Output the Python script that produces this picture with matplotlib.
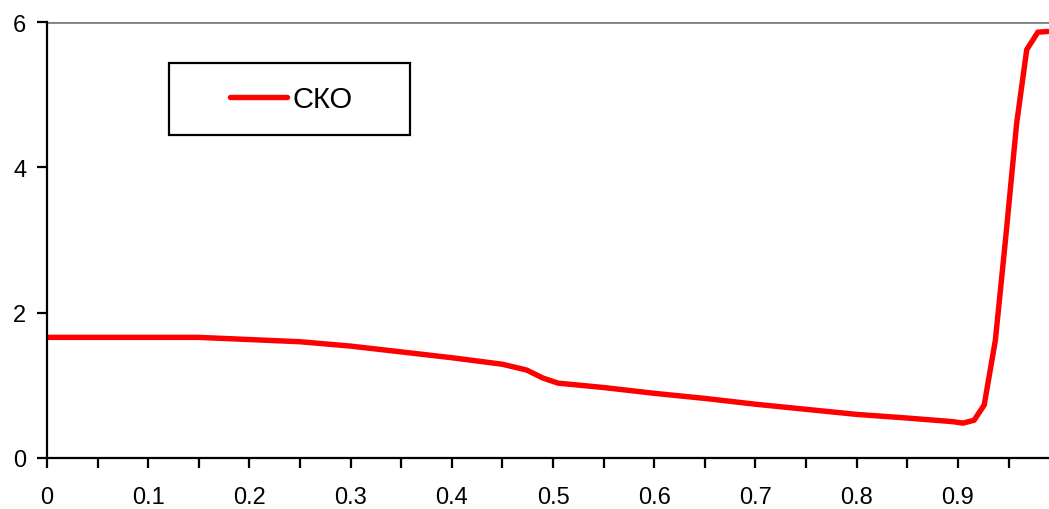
import matplotlib.pyplot as plt
from matplotlib.patches import Rectangle
from matplotlib.ticker import MultipleLocator

# values
x_vals = [0, 0.05, 0.1, 0.15, 0.2, 0.25, 0.3, 0.35, 0.4, 0.45, 0.474, 0.49,
          0.505, 0.55, 0.6, 0.65, 0.7, 0.75, 0.8, 0.85, 0.895, 0.905, 0.916,
          0.926, 0.937, 0.947, 0.958, 0.968, 0.979, 0.989]
sko = [1.66, 1.66, 1.66, 1.66, 1.63, 1.60, 1.54, 1.46, 1.38, 1.29, 1.21, 1.10,
       1.03, 0.97, 0.89, 0.82, 0.74, 0.67, 0.60, 0.55, 0.50, 0.48, 0.52,
       0.73, 1.62, 3.0, 4.6, 5.62, 5.86, 5.87]
series_label = 'СКО'
y_ticks = [0, 2, 4, 6]
x_labels = ['0', '0.1', '0.2', '0.3', '0.4', '0.5', '0.6', '0.7', '0.8', '0.9']

plt.rcParams['font.family'] = ['Liberation Sans', 'DejaVu Sans']

fig = plt.figure(figsize=(10.49, 5.10), dpi=100)
ax = fig.add_axes([47/1049, 51/510, 1002/1049, 436/510])

ax.plot(x_vals, sko, color='#ff0000', lw=3.9, solid_capstyle='round',
        solid_joinstyle='miter', label=series_label)

ax.set_xlim(0, 0.99)
ax.set_ylim(0, 6)
ax.set_yticks(y_ticks)
ax.set_xticks([i / 10 for i in range(len(x_labels))])
ax.set_xticklabels(x_labels)
ax.xaxis.set_minor_locator(MultipleLocator(0.05))

ax.axhline(6, color='#808080', lw=2, zorder=0)
for s in ['top', 'right']:
    ax.spines[s].set_visible(False)
for s in ['left', 'bottom']:
    ax.spines[s].set_linewidth(1.6)
    ax.spines[s].set_color('black')

ax.tick_params(axis='both', which='both', direction='out', length=7, width=1.6,
               labelsize=17, colors='black')
ax.tick_params(axis='x', pad=13)
ax.tick_params(axis='y', pad=8)

# legend box drawn by hand, legend itself without frame
ax.add_patch(Rectangle((0.122, 0.741), 0.240, 0.165, transform=ax.transAxes,
                       fill=False, edgecolor='black', lw=1.6, zorder=5))
ax.legend(loc='center', bbox_to_anchor=(0.2435, 0.823), frameon=False,
          fontsize=21, handlelength=1.97, handletextpad=0.17)

fig.savefig('out.png', dpi=100)
